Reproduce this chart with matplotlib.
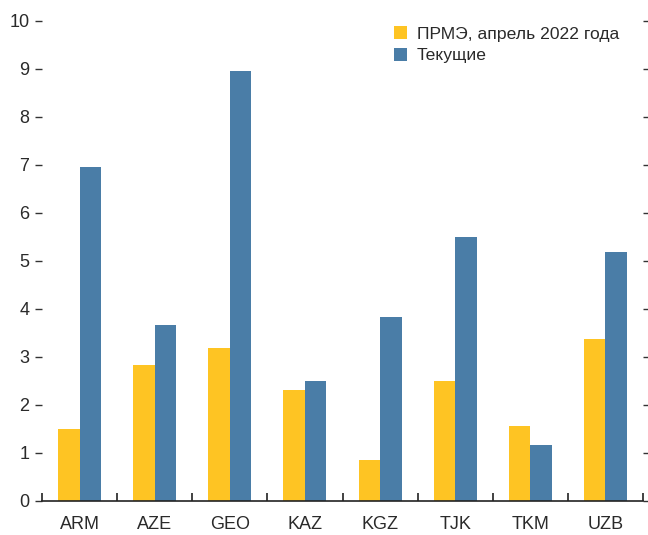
import matplotlib
matplotlib.use("Agg")
import matplotlib.pyplot as plt
import numpy as np

categories = ["ARM", "AZE", "GEO", "KAZ", "KGZ", "TJK", "TKM", "UZB"]
prme_apr2022 = [1.50, 2.82, 3.17, 2.30, 0.84, 2.49, 1.55, 3.36]
current = [6.95, 3.66, 8.95, 2.49, 3.82, 5.49, 1.16, 5.18]
series_labels = ["ПРМЭ, апрель 2022 года", "Текущие"]
colors = ["#FEC423", "#4A7DA7"]
yticks = list(range(0, 11))

plt.rcParams['font.family'] = ['Liberation Sans', 'DejaVu Sans']

W, H = 648, 535
fig = plt.figure(figsize=(W / 100, H / 100), dpi=100)
left, right, bottom, top = 42, 643, 500.5, 20.5
ax = fig.add_axes([left / W, (H - bottom) / H, (right - left) / W, (bottom - top) / H])

x = np.arange(len(categories))
bw = 0.287
ax.bar(x - bw / 2, prme_apr2022, bw, color=colors[0], label=series_labels[0])
ax.bar(x + bw / 2, current, bw, color=colors[1], label=series_labels[1])

ax.set_xlim(-0.5, len(categories) - 0.5)
ax.set_ylim(0, 10)

for s in ["top", "left", "right"]:
    ax.spines[s].set_visible(False)
ax.spines["bottom"].set_linewidth(1.2)
ax.spines["bottom"].set_color("#222222")

ax.set_yticks(yticks)
ax.set_yticklabels([str(v) for v in yticks], fontsize=13, color="#2a2a2a")
ax.tick_params(axis="y", which="major", direction="out", length=5, width=1,
               color="#333333", pad=4, left=True, right=True)

ax.set_xticks(x)
ax.set_xticklabels(categories, fontsize=13, color="#2a2a2a")
ax.tick_params(axis="x", which="major", length=0, pad=11)
ax.set_xticks(np.arange(-0.5, len(categories), 1.0), minor=True)
ax.tick_params(axis="x", which="minor", direction="in", length=6, width=1.2, color="#222222")

leg = ax.legend(loc="upper right", bbox_to_anchor=(0.972, 1.003), frameon=False,
                fontsize=12.6, handlelength=0.75, handleheight=0.75,
                handletextpad=0.55, labelspacing=0.35, borderaxespad=0.0)
for t in leg.get_texts():
    t.set_color("#2a2a2a")

fig.savefig("out.png", dpi=100)
